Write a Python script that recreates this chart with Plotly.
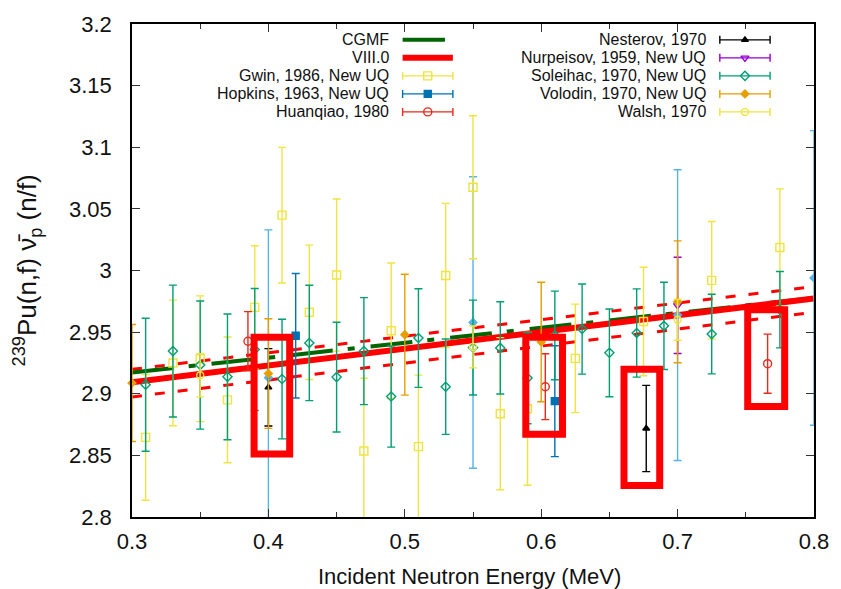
import plotly.graph_objects as go

# ---------------- data ----------------
# model curves
cgmf_energy = [0.30, 0.80]
cgmf_nubar = [2.9172, 2.9777]

endf_energy = [0.30, 0.80]
endf_nubar = [2.9093, 2.9773]
endf_upper = [2.9198, 2.9870]
endf_lower = [2.8974, 2.9662]

# experimental data sets: energy (MeV), nu-bar, 1-sigma uncertainty
gwin_e = [0.31, 0.33, 0.35, 0.37, 0.39, 0.41, 0.43, 0.45, 0.47, 0.49,
          0.51, 0.53, 0.55, 0.57, 0.59, 0.625, 0.675, 0.725, 0.775]
gwin_nu = [2.8646, 2.9250, 2.9284, 2.8950, 2.9701, 3.0449, 2.9661, 2.9963, 2.8536, 2.9511,
           2.8571, 2.9960, 3.0675, 2.8838, 2.8878, 2.9287, 2.9586, 2.9920, 3.0187]
gwin_err = [0.051, 0.051, 0.051, 0.051, 0.050, 0.055, 0.0545, 0.0617, 0.059, 0.055,
            0.058, 0.0585, 0.058, 0.0617, 0.062, 0.044, 0.044, 0.0477, 0.0475]

hopkins_e = [0.42, 0.61]
hopkins_nu = [2.9471, 2.8940]
hopkins_err = [0.0505, 0.045]

huanqiao_e = [0.385, 0.603, 0.766]
huanqiao_nu = [2.9426, 2.9057, 2.9244]
huanqiao_err = [0.024, 0.0267, 0.024]

nesterov_e = [0.40, 0.677]
nesterov_nu = [2.9052, 2.8718]
nesterov_err = [0.0314, 0.035]

nurpeisov_e = [0.70]
nurpeisov_nu = [2.9717]
nurpeisov_err = [0.039]

soleihac_e = [0.31, 0.33, 0.35, 0.37, 0.39, 0.41, 0.43, 0.45, 0.47, 0.49, 0.51,
              0.53, 0.55, 0.57, 0.59, 0.61, 0.63, 0.65, 0.67, 0.69, 0.725, 0.775]
soleihac_nu = [2.9073, 2.9346, 2.9233, 2.9137, 2.9359, 2.9119, 2.9412, 2.9135, 2.9346, 2.8977, 2.9452,
               2.9057, 2.9375, 2.9372, 2.9127, 2.9473, 2.9525, 2.9332, 2.9493, 2.9551, 2.9484, 2.9682]
soleihac_err = [0.054, 0.0535, 0.052, 0.051, 0.0495, 0.0485, 0.0468, 0.0445, 0.0434, 0.041, 0.040,
                0.0387, 0.0385, 0.0374, 0.037, 0.036, 0.0366, 0.0356, 0.0358, 0.0354, 0.0323, 0.031]

volodin_e = [0.30, 0.40, 0.50, 0.60, 0.70]
volodin_nu = [2.9087, 2.9164, 2.9479, 2.9420, 2.9746]
volodin_err = [0.0475, 0.0445, 0.049, 0.0485, 0.0494]

walsh_e = [0.35, 0.55, 0.70]
walsh_nu = [2.9150, 2.9380, 2.9600]
walsh_err = [0.0175, 0.017, 0.0166]

# additional wide-uncertainty points (no key entry)
extra_e = [0.40, 0.55, 0.70, 0.80]
extra_nu = [2.9130, 2.9578, 2.9638, 2.9940]
extra_err = [0.120, 0.1183, 0.118, 0.1195]

# highlighted regions: (E_min, E_max, nu_min, nu_max)
highlight_boxes = [
    (0.3895, 0.4156, 2.8512, 2.9458),
    (0.5887, 0.6156, 2.8672, 2.9458),
    (0.6607, 0.6869, 2.8256, 2.9199),
    (0.7514, 0.7785, 2.8897, 2.9682),
]

# axes
x_range = [0.3, 0.8]
y_range = [2.8, 3.2]
x_ticks = [0.3, 0.4, 0.5, 0.6, 0.7, 0.8]
x_tick_labels = ["0.3", "0.4", "0.5", "0.6", "0.7", "0.8"]
y_ticks = [2.8, 2.85, 2.9, 2.95, 3.0, 3.05, 3.1, 3.15, 3.2]
y_tick_labels = ["2.8", "2.85", "2.9", "2.95", "3", "3.05", "3.1", "3.15", "3.2"]

# ---------------- layout geometry ----------------
W, H = 841, 589
ML, MR, MT, MB = 132, 21, 19, 72
PW, PH = W - ML - MR, H - MT - MB
FONT = "Liberation Sans, Arial, Helvetica, sans-serif"


def px_to_paper(px, py):
    return (px - ML) / PW, (H - MB - py) / PH


def px_to_data(px, py):
    fx, fy = px_to_paper(px, py)
    return (x_range[0] + fx * (x_range[1] - x_range[0]),
            y_range[0] + fy * (y_range[1] - y_range[0]))


fig = go.Figure()

# ---------------- model curves ----------------
for band in (endf_upper, endf_lower):
    fig.add_trace(go.Scatter(x=endf_energy, y=band, mode="lines",
                             line=dict(color="#ff0000", width=3, dash="10px,13px"),
                             showlegend=False, hoverinfo="skip"))
fig.add_trace(go.Scatter(x=cgmf_energy, y=cgmf_nubar, mode="lines", name="CGMF",
                         line=dict(color="#006400", width=4, dash="42px,15px,7px,16px"),
                         showlegend=False))
fig.add_trace(go.Scatter(x=endf_energy, y=endf_nubar, mode="lines", name="VIII.0",
                         line=dict(color="#ff0000", width=6), showlegend=False))

# ---------------- experimental data ----------------
datasets = [
    dict(name="Additional data", x=extra_e, y=extra_nu, err=extra_err,
         color="#56b4e9", symbol="diamond", size=6, clip=True),
    dict(name="Gwin, 1986, New UQ", x=gwin_e, y=gwin_nu, err=gwin_err,
         color="#f0e442", symbol="square-open", size=8, clip=True),
    dict(name="Hopkins, 1963, New UQ", x=hopkins_e, y=hopkins_nu, err=hopkins_err,
         color="#0072b2", symbol="square", size=7, clip=True),
    dict(name="Huanqiao, 1980", x=huanqiao_e, y=huanqiao_nu, err=huanqiao_err,
         color="#e8291c", symbol="circle-open", size=8, clip=True),
    dict(name="Nesterov, 1970", x=nesterov_e, y=nesterov_nu, err=nesterov_err,
         color="#000000", symbol="triangle-up", size=6, clip=True),
    dict(name="Nurpeisov, 1959, New UQ", x=nurpeisov_e, y=nurpeisov_nu, err=nurpeisov_err,
         color="#9400d3", symbol="triangle-down-open", size=7, clip=True),
    dict(name="Soleihac, 1970, New UQ", x=soleihac_e, y=soleihac_nu, err=soleihac_err,
         color="#009e73", symbol="diamond-open", size=7, clip=True),
    dict(name="Volodin, 1970, New UQ", x=volodin_e, y=volodin_nu, err=volodin_err,
         color="#e69f00", symbol="diamond", size=6, clip=False),
    dict(name="Walsh, 1970", x=walsh_e, y=walsh_nu, err=walsh_err,
         color="#f0e442", symbol="circle-open", size=7, clip=True),
]

for d in datasets:
    fig.add_trace(go.Scatter(
        x=d["x"], y=d["y"], mode="markers", name=d["name"], showlegend=False,
        cliponaxis=d["clip"],
        marker=dict(symbol=d["symbol"], size=d["size"], color=d["color"],
                    line=dict(color=d["color"], width=1.4)),
        error_y=dict(type="data", array=d["err"], visible=True,
                     color=d["color"], thickness=1.4, width=4),
    ))

# ---------------- highlight boxes ----------------
for (x0, x1, y0, y1) in highlight_boxes:
    fig.add_shape(type="rect", xref="x", yref="y", x0=x0, x1=x1, y0=y0, y1=y1,
                  line=dict(color="#ff0000", width=7), layer="above")

# ---------------- key (text, then sample to its right) ----------------
row_py = [35, 53.2, 71.4, 89.6, 107.8]
columns = [
    dict(text_px=393, s0=405, s1=455.7),
    dict(text_px=713, s0=725, s1=775.7),
]
key_entries = [
    (0, 0, "CGMF", dict(kind="line", color="#006400", width=4, end=447.7)),
    (0, 1, "VIII.0", dict(kind="line", color="#ff0000", width=6)),
    (0, 2, "Gwin, 1986, New UQ", datasets[1]),
    (0, 3, "Hopkins, 1963, New UQ", datasets[2]),
    (0, 4, "Huanqiao, 1980", datasets[3]),
    (1, 0, "Nesterov, 1970", datasets[4]),
    (1, 1, "Nurpeisov, 1959, New UQ", datasets[5]),
    (1, 2, "Soleihac, 1970, New UQ", datasets[6]),
    (1, 3, "Volodin, 1970, New UQ", datasets[7]),
    (1, 4, "Walsh, 1970", datasets[8]),
]

for col, row, label, style in key_entries:
    c = columns[col]
    py = row_py[row]
    tx, ty = px_to_paper(c["text_px"], py)
    fig.add_annotation(xref="paper", yref="paper", x=tx, y=ty, text=label,
                       showarrow=False, xanchor="right", yanchor="middle",
                       font=dict(family=FONT, size=16, color="#111111"))
    if style.get("kind") == "line":
        x0, y0 = px_to_paper(c["s0"], py)
        x1, _ = px_to_paper(style.get("end", c["s1"]), py)
        fig.add_shape(type="line", xref="paper", yref="paper", x0=x0, x1=x1, y0=y0, y1=y0,
                      line=dict(color=style["color"], width=style["width"]))
    else:
        cx, cy = px_to_data((c["s0"] + c["s1"]) / 2, py)
        lx, _ = px_to_data(c["s0"], py)
        half = cx - lx
        fig.add_trace(go.Scatter(
            x=[cx], y=[cy], mode="markers", showlegend=False, cliponaxis=False,
            hoverinfo="skip",
            marker=dict(symbol=style["symbol"], size=style["size"], color=style["color"],
                        line=dict(color=style["color"], width=1.4)),
            error_x=dict(type="data", array=[half], visible=True,
                         color=style["color"], thickness=1.4, width=4),
        ))

# ---------------- axis titles ----------------
xt, yt = px_to_paper(472.5, 577)
fig.add_annotation(xref="paper", yref="paper", x=xt, y=yt,
                   text="Incident Neutron Energy (MeV)", showarrow=False,
                   xanchor="center", yanchor="middle",
                   font=dict(family=FONT, size=22, color="#111111"))
xt, yt = px_to_paper(26, 268)
fig.add_annotation(xref="paper", yref="paper", x=xt, y=yt,
                   text="<sup>239</sup>Pu(n,f) \u03bd\u0304<sub>p</sub> (n/f)",
                   showarrow=False, textangle=-90, xanchor="center", yanchor="middle",
                   font=dict(family=FONT, size=26, color="#111111"))

axis_common = dict(
    showline=True, linecolor="#000000", linewidth=1.6, mirror="ticks",
    ticks="inside", tickcolor="#333333", tickwidth=1.2, ticklen=8,
    showgrid=False, zeroline=False,
    tickfont=dict(family=FONT, size=22, color="#111111"),
)

fig.update_xaxes(range=x_range, tickvals=x_ticks, ticktext=x_tick_labels,
                 ticklabelstandoff=4,
                 minor=dict(dtick=0.05, tick0=0.3, ticks="inside", ticklen=5,
                            tickcolor="#333333", tickwidth=1.2, showgrid=False),
                 **axis_common)
fig.update_yaxes(range=y_range, tickvals=y_ticks, ticktext=y_tick_labels,
                 ticklabelstandoff=14, **axis_common)

fig.update_layout(
    width=W, height=H, autosize=False,
    margin=dict(l=ML, r=MR, t=MT, b=MB, pad=0),
    paper_bgcolor="white", plot_bgcolor="white",
    showlegend=False,
    font=dict(family=FONT, color="#111111"),
)

fig.write_html("out.html")
